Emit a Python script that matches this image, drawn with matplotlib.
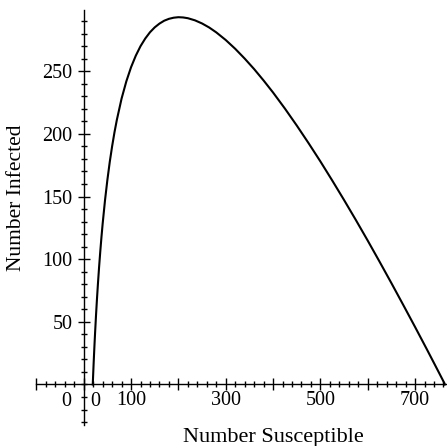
import numpy as np
import matplotlib
matplotlib.use("Agg")
import matplotlib.pyplot as plt
from matplotlib.ticker import MultipleLocator, FixedLocator
from matplotlib.transforms import blended_transform_factory

# S-I trajectory
susceptible = [19.1, 19.5, 20, 20.5, 21, 22, 23, 24, 26, 28, 30, 32.5, 35, 37.5,
               40, 45, 50, 55, 60, 65, 70, 80, 90, 100, 110, 120, 130, 140, 150,
               160, 170, 180, 190, 200, 210, 220, 235, 250, 265, 280, 300, 320,
               340, 360, 380, 400, 425, 450, 475, 500, 525, 550, 575, 600, 625,
               650, 675, 700, 725, 740, 750, 762, 763]
infected = [0.0, 3.8, 8.4, 12.9, 17.3, 25.6, 33.6, 41.2, 55.4, 68.3, 80.2, 93.9,
            106.3, 117.8, 128.3, 147.1, 163.3, 177.6, 190.1, 201.3, 211.2, 228.2,
            241.9, 253.2, 262.4, 270.0, 276.1, 281.1, 285.0, 288.0, 290.3, 291.8,
            292.7, 293.1, 292.9, 292.3, 290.6, 288.1, 284.9, 281.0, 274.9, 267.9,
            260.1, 251.7, 242.6, 233.0, 220.2, 206.7, 192.6, 178.0, 162.8, 147.2,
            131.2, 114.8, 98.0, 80.9, 63.5, 45.9, 28.0, 17.1, 9.8, 1.0, 0.0]

xticks_major = [-100, 0, 100, 200, 300, 400, 500, 600, 700]
xtick_labels = ["", "", "100", "", "300", "", "500", "", "700"]
yticks_major = [50, 100, 150, 200, 250]

plt.rcParams['font.family'] = ['Liberation Serif', 'DejaVu Serif']

def main():
    fig = plt.figure(figsize=(4.47, 4.46), dpi=100)
    ax = fig.add_axes([0.0814, 0.0466, 0.916, 0.930])

    ax.plot(susceptible, infected, color='black', lw=1.5)

    ax.set_xlim(-100, 765)
    ax.set_ylim(-32.5, 298.5)

    # axes through the origin
    ax.spines['left'].set_position(('data', 0))
    ax.spines['bottom'].set_position(('data', 0))
    ax.spines['top'].set_visible(False)
    ax.spines['right'].set_visible(False)
    for s in ('left', 'bottom'):
        ax.spines[s].set_linewidth(1.0)

    ax.xaxis.set_major_locator(FixedLocator(xticks_major))
    ax.set_xticklabels(xtick_labels)
    ax.xaxis.set_minor_locator(MultipleLocator(20))
    ax.yaxis.set_major_locator(FixedLocator(yticks_major))
    ax.yaxis.set_minor_locator(MultipleLocator(10))

    ax.tick_params(which='major', direction='inout', length=8, width=1.0, labelsize=14.5)
    ax.tick_params(which='minor', direction='inout', length=5, width=1.0)
    ax.tick_params(axis='x', which='major', pad=1)
    ax.tick_params(axis='y', which='major', pad=4)

    # origin labels
    ax.text(-37.4, -13.2, "0", ha='center', va='center', fontsize=14.5)
    ax.text(25, -13.2, "0", ha='center', va='center', fontsize=14.5)

    trans = blended_transform_factory(fig.transFigure, ax.transData)
    ax.text(0.038, 149, "Number Infected", rotation=90, ha='center', va='center',
            fontsize=15.5, transform=trans)
    trans2 = blended_transform_factory(ax.transData, fig.transFigure)
    ax.text(401, 0.008, "Number Susceptible", ha='center', va='baseline',
            fontsize=16, transform=trans2)

    plt.savefig("out.png", dpi=100)

if __name__ == "__main__":
    main()
